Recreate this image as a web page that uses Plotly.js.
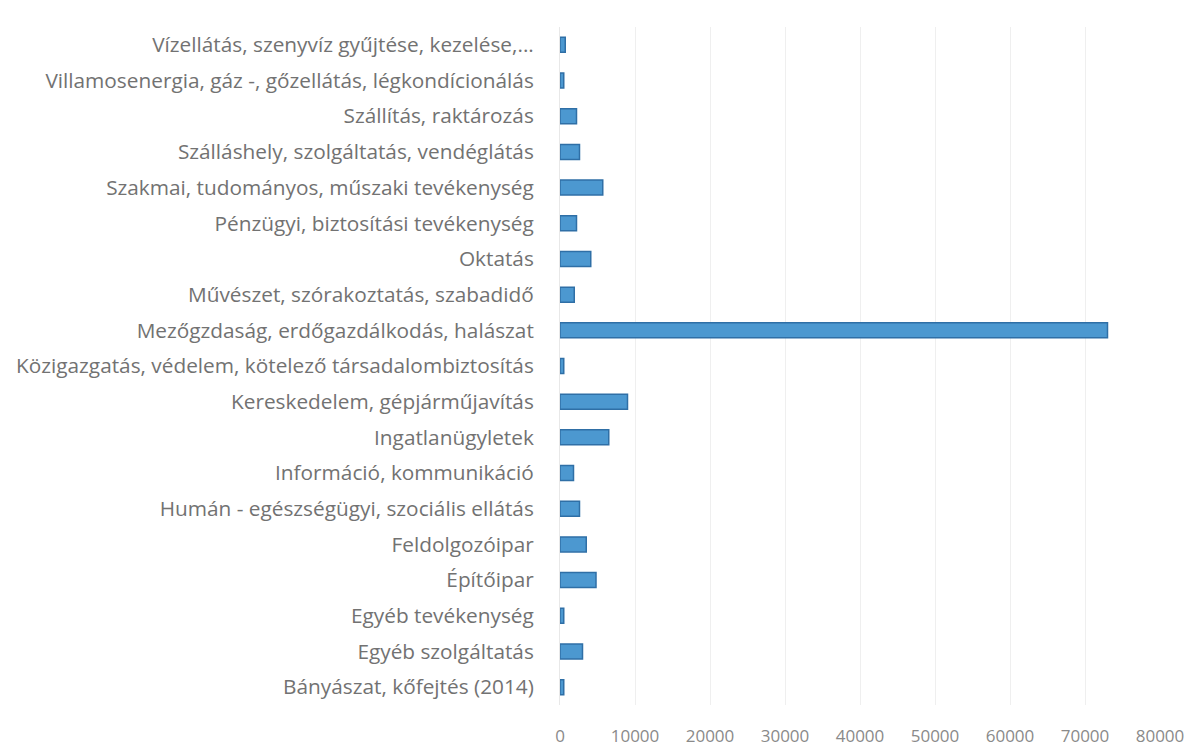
<!DOCTYPE html>
<html>
<head>
<meta charset="utf-8">
<script src="https://cdn.plot.ly/plotly-3.0.1.min.js"></script>
<style>
  body { margin: 0; background: #fff; }
  #chart { width: 1188px; height: 747px; }
</style>
</head>
<body>
<div id="chart"></div>
<script>
// categories listed bottom to top, as on the chart
var sectors = [
    "Bányászat, kőfejtés (2014)",
    "Egyéb szolgáltatás",
    "Egyéb tevékenység",
    "Építőipar",
    "Feldolgozóipar",
    "Humán - egészségügyi, szociális ellátás",
    "Információ, kommunikáció",
    "Ingatlanügyletek",
    "Kereskedelem, gépjárműjavítás",
    "Közigazgatás, védelem, kötelező társadalombiztosítás",
    "Mezőgzdaság, erdőgazdálkodás, halászat",
    "Művészet, szórakoztatás, szabadidő",
    "Oktatás",
    "Pénzügyi, biztosítási tevékenység",
    "Szakmai, tudományos, műszaki tevékenység",
    "Szálláshely, szolgáltatás, vendéglátás",
    "Szállítás, raktározás",
    "Villamosenergia, gáz -, gőzellátás, légkondícionálás",
    "Vízellátás, szenyvíz gyűjtése, kezelése,..."
];

var counts = [500, 3000, 500, 4800, 3500, 2600, 1800, 6500, 9000, 500,
              73000, 1900, 4100, 2200, 5700, 2600, 2200, 500, 700];

var xTicks = [0, 10000, 20000, 30000, 40000, 50000, 60000, 70000, 80000];

var trace = {
    type: 'bar',
    orientation: 'h',
    y: sectors,
    x: counts,
    width: 0.42,
    marker: {
        color: '#4c98d0',
        line: { color: '#2f6fa6', width: 1.5 }
    },
    hoverinfo: 'x+y'
};

var layout = {
    width: 1188,
    height: 747,
    margin: { l: 560, r: 28, t: 27, b: 42 },
    paper_bgcolor: '#ffffff',
    plot_bgcolor: '#ffffff',
    showlegend: false,
    font: { family: '"Open Sans", sans-serif', color: '#6b6b6b', size: 17 },
    xaxis: {
        range: [0, 80000],
        tickvals: xTicks,
        ticktext: xTicks.map(String),
        showgrid: true,
        gridcolor: '#efefef',
        gridwidth: 1,
        zeroline: false,
        showline: false,
        ticks: '',
        ticklabelstandoff: 19,
        tickfont: { size: 17, color: '#8a8a8a' }
    },
    yaxis: {
        type: 'category',
        categoryorder: 'array',
        categoryarray: sectors,
        showgrid: false,
        zeroline: false,
        showline: true,
        linecolor: '#e8e8e8',
        ticks: '',
        ticklabelstandoff: 21,
        tickfont: { size: 20.8, color: '#727272' }
    }
};

Plotly.newPlot('chart', [trace], layout, { displayModeBar: false, staticPlot: true });
</script>
</body>
</html>
